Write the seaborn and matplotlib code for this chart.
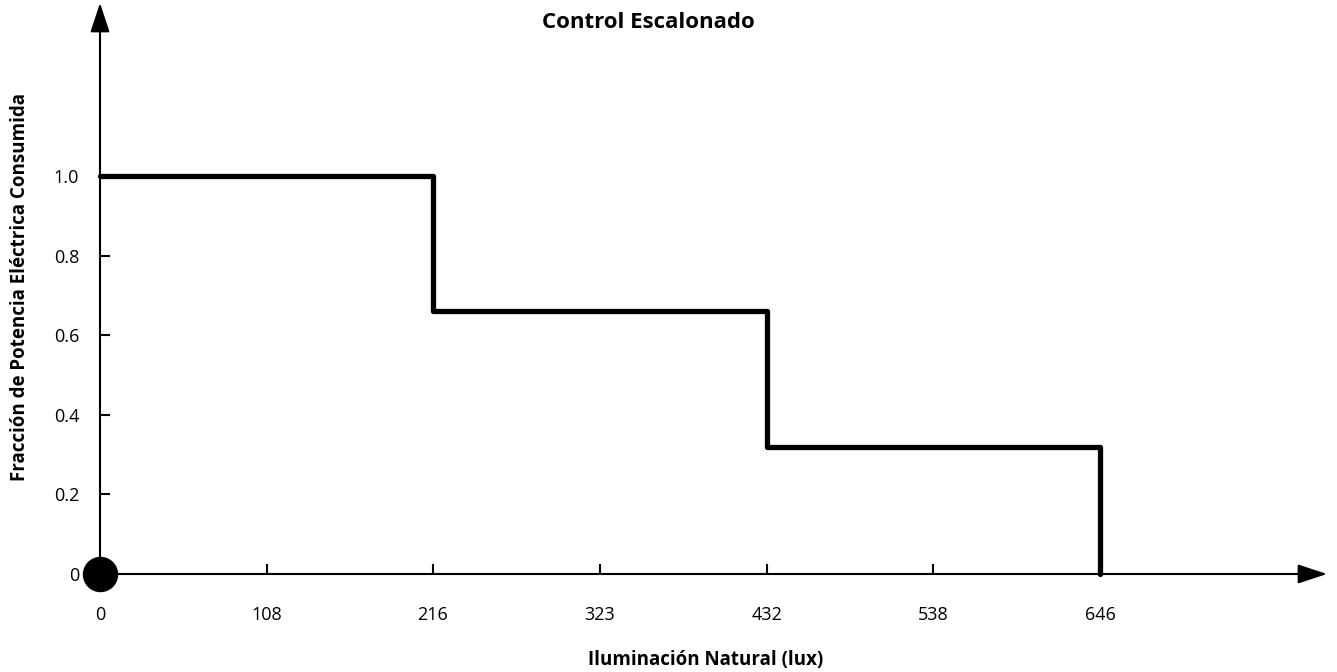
import matplotlib
matplotlib.use("Agg")
import matplotlib.pyplot as plt
import numpy as np
import pandas as pd
import seaborn as sns

# datos del control escalonado
iluminacion = [0, 215, 431, 646]
fraccion = [1.0, 0.66, 0.32, 0.0]
xtick_pos = [0, 108, 215, 323, 431, 538, 646]
xtick_labels = ["0", "108", "216", "323", "432", "538", "646"]
yticks = [0, 0.2, 0.4, 0.6, 0.8, 1.0]
ytick_labels = ["0", "0.2", "0.4", "0.6", "0.8", "1.0"]

sns.set_style("white")
plt.rcParams['font.family'] = ['Open Sans', 'DejaVu Sans']
plt.rcParams['text.color'] = 'black'
plt.rcParams['axes.labelcolor'] = 'black'
plt.rcParams['xtick.color'] = 'black'
plt.rcParams['ytick.color'] = 'black'

df = pd.DataFrame({'lux': iluminacion, 'frac': fraccion})

fig = plt.figure(figsize=(13.37, 6.72), dpi=100)
ax = fig.add_axes([100/1337, 98/672, 1230/1337, 574/672])

sns.lineplot(data=df, x='lux', y='frac', estimator=None, drawstyle='steps-post',
             color='black', linewidth=3.8, ax=ax, clip_on=False)

xmax = 1230 / (1000/646)
ymax = 574 / 398
ax.set_xlim(0, xmax)
ax.set_ylim(0, ymax)

for s in ax.spines.values():
    s.set_visible(False)

# ejes con flechas
arrow = dict(arrowstyle='-|>,head_length=1.0,head_width=0.33', color='black',
             lw=1.5, mutation_scale=18, shrinkA=0, shrinkB=0)
ax.annotate('', xy=(1227/(1000/646), 0), xytext=(0, 0), arrowprops=arrow, annotation_clip=False)
ax.annotate('', xy=(0, 571/398), xytext=(0, 0), arrowprops=arrow, annotation_clip=False)

ax.scatter([0], [0], s=600, color='black', zorder=5, clip_on=False)

ax.set_xticks(xtick_pos)
ax.set_xticklabels(xtick_labels)
ax.set_yticks(yticks)
ax.set_yticklabels(ytick_labels)
ax.tick_params(axis='x', direction='in', length=7, width=1.5, pad=23, labelsize=13, bottom=True)
ax.tick_params(axis='y', direction='in', length=7, width=1.5, pad=15, labelsize=13, left=True)

ax.set_xlabel('')
ax.set_ylabel('Fracción de Potencia Eléctrica Consumida', fontsize=13.5, fontweight='bold', labelpad=17)
fig.text(706/1337, 1 - 660/672, 'Iluminación Natural (lux)', ha='center', va='center',
         fontsize=13.5, fontweight='bold')
fig.text(648/1337, 1 - 23/672, 'Control Escalonado', ha='center', va='center',
         fontsize=16, fontweight='bold')

fig.savefig('out.png', dpi=100)
